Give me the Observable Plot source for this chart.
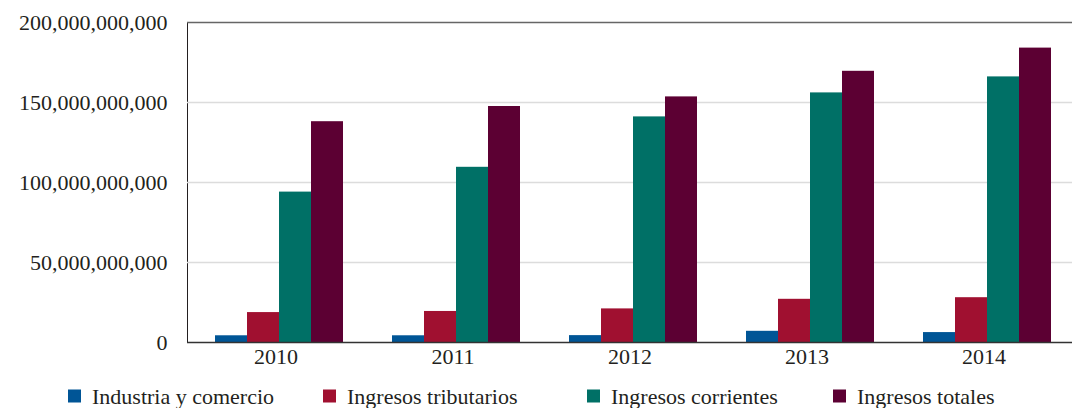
<!DOCTYPE html>
<html>
<head>
<meta charset="utf-8">
<script src="https://cdn.jsdelivr.net/npm/d3@7"></script>
<script src="https://cdn.jsdelivr.net/npm/@observablehq/plot@0.6"></script>
<style>
  body { margin: 0; background: #fff; }
  #chart svg, #legend svg { display: block; }
</style>
</head>
<body>
<div id="chart"></div>
<div id="legend"></div>
<script>
const years = ["2010", "2011", "2012", "2013", "2014"];
const series = ["Industria y comercio", "Ingresos tributarios", "Ingresos corrientes", "Ingresos totales"];
const colors = ["#005596", "#a01030", "#007066", "#5c0033"];
const industria   = [4.2e9, 4.2e9, 4.3e9, 7.0e9, 6.2e9];
const tributarios = [18.7e9, 19.4e9, 21.0e9, 27.0e9, 28.0e9];
const corrientes  = [94e9, 109.5e9, 141e9, 156e9, 166e9];
const totales     = [138e9, 147.5e9, 153.5e9, 169.5e9, 184e9];
const yTicks = [0, 50e9, 100e9, 150e9, 200e9];

const valuesBySeries = [industria, tributarios, corrientes, totales];
const data = [];
years.forEach((yr, i) => {
  series.forEach((s, j) => data.push({year: yr, series: s, value: valuesBySeries[j][i]}));
});

const FONT = "Liberation Serif, serif";

const chart = Plot.plot({
  width: 1077,
  height: 370,
  marginLeft: 185,
  marginRight: 4,
  marginTop: 22,
  marginBottom: 28,
  style: {fontFamily: FONT, fontSize: "22px", color: "#231f20", background: "#fff"},
  fx: {domain: years, padding: 0, label: null, axis: "bottom", tickSize: 0, tickPadding: 6},
  x: {domain: series, paddingInner: 0, paddingOuter: 0.732, align: 0.58, axis: null},
  y: {domain: [0, 200e9], ticks: yTicks, tickFormat: d3.format(","), tickSize: 0, tickPadding: 20, label: null, line: true},
  color: {domain: series, range: colors},
  marks: [
    Plot.ruleY(yTicks.slice(1, 4), {stroke: "#dcdcdc", strokeWidth: 1.5}),
    Plot.ruleY([200e9], {stroke: "#666", strokeWidth: 1.5}),
    Plot.barY(data, {fx: "year", x: "series", y: "value", fill: "series"}),
    Plot.ruleY([0], {stroke: "#333", strokeWidth: 1.5})
  ]
});
document.getElementById("chart").appendChild(chart);

// Legend (layout: item start positions)
const itemX = [68, 323, 587, 833];
const lg = d3.select("#legend").append("svg")
  .attr("width", 1077).attr("height", 38)
  .attr("font-family", FONT).attr("font-size", 22).attr("fill", "#231f20");
series.forEach((s, j) => {
  const g = lg.append("g").attr("transform", `translate(${itemX[j]},26)`);
  g.append("rect").attr("x", 0).attr("y", -6.5).attr("width", 13).attr("height", 13).attr("fill", colors[j]);
  g.append("text").attr("x", 24).attr("y", 0).attr("dy", "0.35em").text(s);
});
</script>
</body>
</html>
